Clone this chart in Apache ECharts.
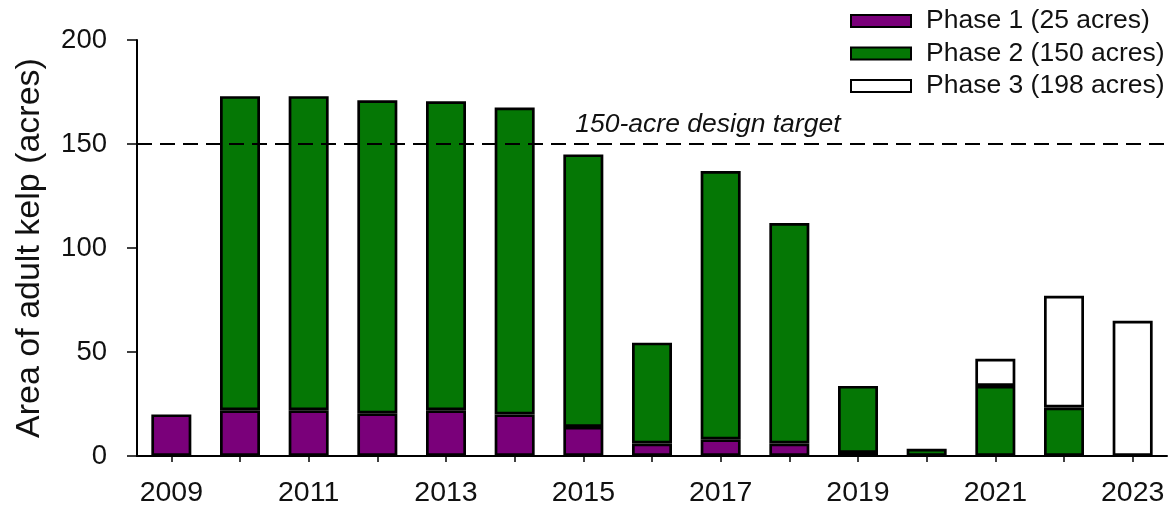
<!DOCTYPE html>
<html>
<head>
<meta charset="utf-8">
<script src="https://cdn.jsdelivr.net/npm/echarts@6/dist/echarts.min.js"></script>
<style>
  html, body { margin: 0; padding: 0; background: #fff; }
  #chart { width: 1176px; height: 512px; }
</style>
</head>
<body>
<div id="chart"></div>
<script>
// Survey years
const years = ['2009','2010','2011','2012','2013','2014','2015','2016','2017','2018','2019','2020','2021','2022','2023'];

// Adult kelp area (acres) per restoration phase; stacked per year
const phase1 = [20, 22, 22, 20.5, 22, 20, 14, 6, 8, 6, 1.5, null, null, null, null];
const phase2 = [null, 151, 151, 150.5, 148.5, 147.5, 131, 48.5, 129, 106, 32.2, 3.5, 33.7, 23.3, null];
const phase3 = [null, null, null, null, null, null, null, null, null, null, null, null, 13, 53.7, 65];

const seriesNames = ['Phase 1 (25 acres)', 'Phase 2 (150 acres)', 'Phase 3 (198 acres)'];
const seriesColors = ['#7a007a', '#057705', '#ffffff'];

const targetValue = 150;
const targetLabel = '150-acre design target';
const yTicks = [0, 50, 100, 150, 200];

const FONT = 'Liberation Sans, Arial, sans-serif';

const chart = echarts.init(document.getElementById('chart'), null, { renderer: 'canvas' });

function barSeries(name, data, color, withTarget) {
  const s = {
    name: name,
    type: 'bar',
    stack: 'kelp',
    data: data,
    barWidth: 40,
    itemStyle: { color: color, borderColor: '#000', borderWidth: 2.7 },
    emphasis: { disabled: true }
  };
  if (withTarget) {
    s.markLine = {
      silent: true,
      symbol: 'none',
      label: { show: false },
      lineStyle: { color: '#000', width: 1.9, type: [15, 8] },
      data: [{ yAxis: targetValue }]
    };
  }
  return s;
}

chart.setOption({
  animation: false,
  backgroundColor: '#fff',
  grid: { left: 137, right: 9, top: 40, bottom: 56 },
  legend: {
    orient: 'vertical',
    left: 850,
    top: 7,
    padding: 0,
    itemWidth: 60,
    itemHeight: 12,
    itemGap: 4.5,
    icon: 'rect',
    textStyle: { fontFamily: FONT, fontSize: 26.5, color: '#111', lineHeight: 28, padding: [0, 0, 0, 10] },
    data: seriesNames
  },
  xAxis: {
    type: 'category',
    data: years,
    axisLine: { lineStyle: { color: '#000', width: 2 } },
    axisTick: { show: true, alignWithLabel: true, interval: 0, length: 6, lineStyle: { color: '#000', width: 1.5 } },
    axisLabel: { interval: 1, margin: 23, fontFamily: FONT, fontSize: 28.5, color: '#111' }
  },
  yAxis: {
    type: 'value',
    min: yTicks[0],
    max: yTicks[yTicks.length - 1],
    interval: 50,
    name: 'Area of adult kelp (acres)',
    nameLocation: 'middle',
    nameGap: 90,
    nameTextStyle: { fontFamily: FONT, fontSize: 34, color: '#111' },
    splitLine: { show: false },
    axisLine: { show: true, lineStyle: { color: '#000', width: 2 } },
    axisTick: { show: true, length: 10, lineStyle: { color: '#000', width: 1.5 } },
    axisLabel: { margin: 30, fontFamily: FONT, fontSize: 27.5, color: '#111' }
  },
  series: [
    barSeries(seriesNames[0], phase1, seriesColors[0], true),
    barSeries(seriesNames[1], phase2, seriesColors[1], false),
    barSeries(seriesNames[2], phase3, seriesColors[2], false)
  ]
});

// Caption for the target line, placed just above it near the 2015 bar
const xStart = chart.convertToPixel({ xAxisIndex: 0 }, '2015') - 8;
const yLine = chart.convertToPixel({ yAxisIndex: 0 }, targetValue);
chart.setOption({
  graphic: [{
    type: 'text',
    left: xStart,
    top: yLine - 33,
    silent: true,
    style: {
      text: targetLabel,
      fontFamily: FONT,
      fontStyle: 'italic',
      fontSize: 26.5,
      fill: '#111'
    }
  }]
});
</script>
</body>
</html>
